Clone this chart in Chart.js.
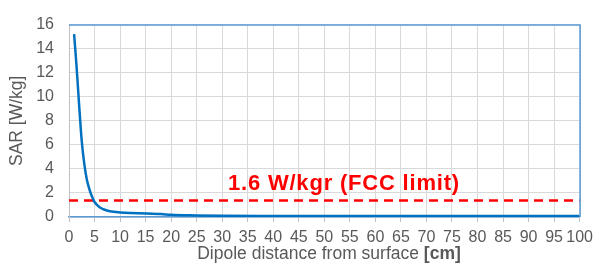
<!DOCTYPE html>
<html>
<head>
<meta charset="utf-8">
<script src="https://cdn.jsdelivr.net/npm/chart.js@4/dist/chart.umd.min.js"></script>
<style>
  html, body { margin: 0; padding: 0; background: #fff; }
  #wrap { width: 599px; height: 273px; position: relative; }
</style>
</head>
<body>
<div id="wrap"><canvas id="sar-chart"></canvas></div>
<script>
// distância do dipolo [cm] e SAR [W/kg]
const distances = [1, 1.5, 2, 2.5, 3, 3.5, 4, 4.5, 5, 6, 7, 8, 10, 12, 15, 18, 20, 25, 30, 40, 50, 60, 70, 80, 90, 100];
const sarValues = [15.2, 12.4, 9.2, 6.3, 4.4, 3.1, 2.3, 1.7, 1.25, 0.82, 0.6, 0.48, 0.38, 0.33, 0.3, 0.25, 0.18, 0.13, 0.1, 0.09, 0.08, 0.08, 0.08, 0.08, 0.08, 0.08];
const xTicks = [0, 5, 10, 15, 20, 25, 30, 35, 40, 45, 50, 55, 60, 65, 70, 75, 80, 85, 90, 95, 100];
const yTicks = [0, 2, 4, 6, 8, 10, 12, 14, 16];
const fccLimit = 1.45;
const fccLabel = '1.6 W/kgr (FCC limit)';
const xTitle = 'Dipole distance from surface ';
const xTitleUnit = '[cm]';
const yTitle = 'SAR [W/kg]';

const FONT = '"Liberation Sans", Arial, sans-serif';
const TICK_COLOR = '#595959';

// desenha borda azul, linha do limite, rótulo e título do eixo X
const overlayPlugin = {
    id: 'overlay',
    beforeDatasetsDraw(chart) {
        const { ctx, chartArea: a, scales: { y } } = chart;
        const yl = Math.round(y.getPixelForValue(fccLimit)) + 0.5;
        ctx.save();
        ctx.strokeStyle = '#ff0000';
        ctx.lineWidth = 2.5;
        ctx.setLineDash([9, 6]);
        ctx.beginPath();
        ctx.moveTo(a.left, yl);
        ctx.lineTo(a.right, yl);
        ctx.stroke();
        ctx.restore();
    },
    afterDraw(chart) {
        const { ctx, chartArea: a } = chart;
        ctx.save();
        ctx.strokeStyle = '#5b9bd5';
        ctx.lineWidth = 1.5;
        ctx.beginPath();
        ctx.moveTo(a.left, a.top + 0.5);
        ctx.lineTo(a.right + 0.5, a.top + 0.5);
        ctx.lineTo(a.right + 0.5, a.bottom);
        ctx.stroke();

        // rótulo do limite FCC
        ctx.fillStyle = '#ff0000';
        ctx.font = 'bold 22px ' + FONT;
        ctx.letterSpacing = '0.8px';
        ctx.textBaseline = 'alphabetic';
        ctx.textAlign = 'left';
        ctx.fillText(fccLabel, a.left + 159, 190);
        ctx.letterSpacing = '0px';

        // título do eixo X com unidade em negrito
        ctx.fillStyle = TICK_COLOR;
        ctx.font = '17.5px ' + FONT;
        const w1 = ctx.measureText(xTitle).width;
        ctx.font = 'bold 17.5px ' + FONT;
        const w2 = ctx.measureText(xTitleUnit).width;
        const cx = 329;
        const x0 = cx - (w1 + w2) / 2;
        ctx.textBaseline = 'middle';
        ctx.font = '17.5px ' + FONT;
        ctx.fillText(xTitle, x0, 254);
        ctx.font = 'bold 17.5px ' + FONT;
        ctx.fillText(xTitleUnit, x0 + w1, 254);
        ctx.restore();
    }
};

new Chart(document.getElementById('sar-chart'), {
    type: 'line',
    data: {
        datasets: [{
            data: distances.map((d, i) => ({ x: d, y: sarValues[i] })),
            borderColor: '#0070c0',
            borderWidth: 2.5,
            pointRadius: 0,
            tension: 0.4,
            cubicInterpolationMode: 'monotone',
            fill: false
        }]
    },
    options: {
        responsive: true,
        maintainAspectRatio: false,
        animation: false,
        layout: { padding: { top: 15, right: 15, left: 0, bottom: 0 } },
        plugins: { legend: { display: false }, tooltip: { enabled: false } },
        scales: {
            x: {
                type: 'linear',
                min: 0,
                max: 100,
                afterBuildTicks: s => { s.ticks = xTicks.map(v => ({ value: v })); },
                afterFit: s => { s.height = 56; },
                grid: { color: '#d9d9d9', lineWidth: 1, drawTicks: true, tickLength: 5, tickColor: '#bfbfbf' },
                border: { color: '#5b9bd5', width: 1.5 },
                ticks: {
                    autoSkip: false,
                    maxRotation: 0,
                    padding: 6,
                    color: TICK_COLOR,
                    font: { family: FONT, size: 16 }
                }
            },
            y: {
                min: 0,
                max: 16,
                afterBuildTicks: s => { s.ticks = yTicks.map(v => ({ value: v })); },
                afterFit: s => { s.width = 69; },
                grid: { color: '#d9d9d9', lineWidth: 1, drawTicks: false },
                border: { color: '#bfbfbf', width: 1 },
                title: {
                    display: true,
                    text: yTitle,
                    color: TICK_COLOR,
                    font: { family: FONT, size: 17.5 },
                    padding: { top: 7, bottom: 0 }
                },
                ticks: {
                    padding: 15,
                    color: TICK_COLOR,
                    font: { family: FONT, size: 16 }
                }
            }
        }
    },
    plugins: [overlayPlugin]
});
</script>
</body>
</html>
